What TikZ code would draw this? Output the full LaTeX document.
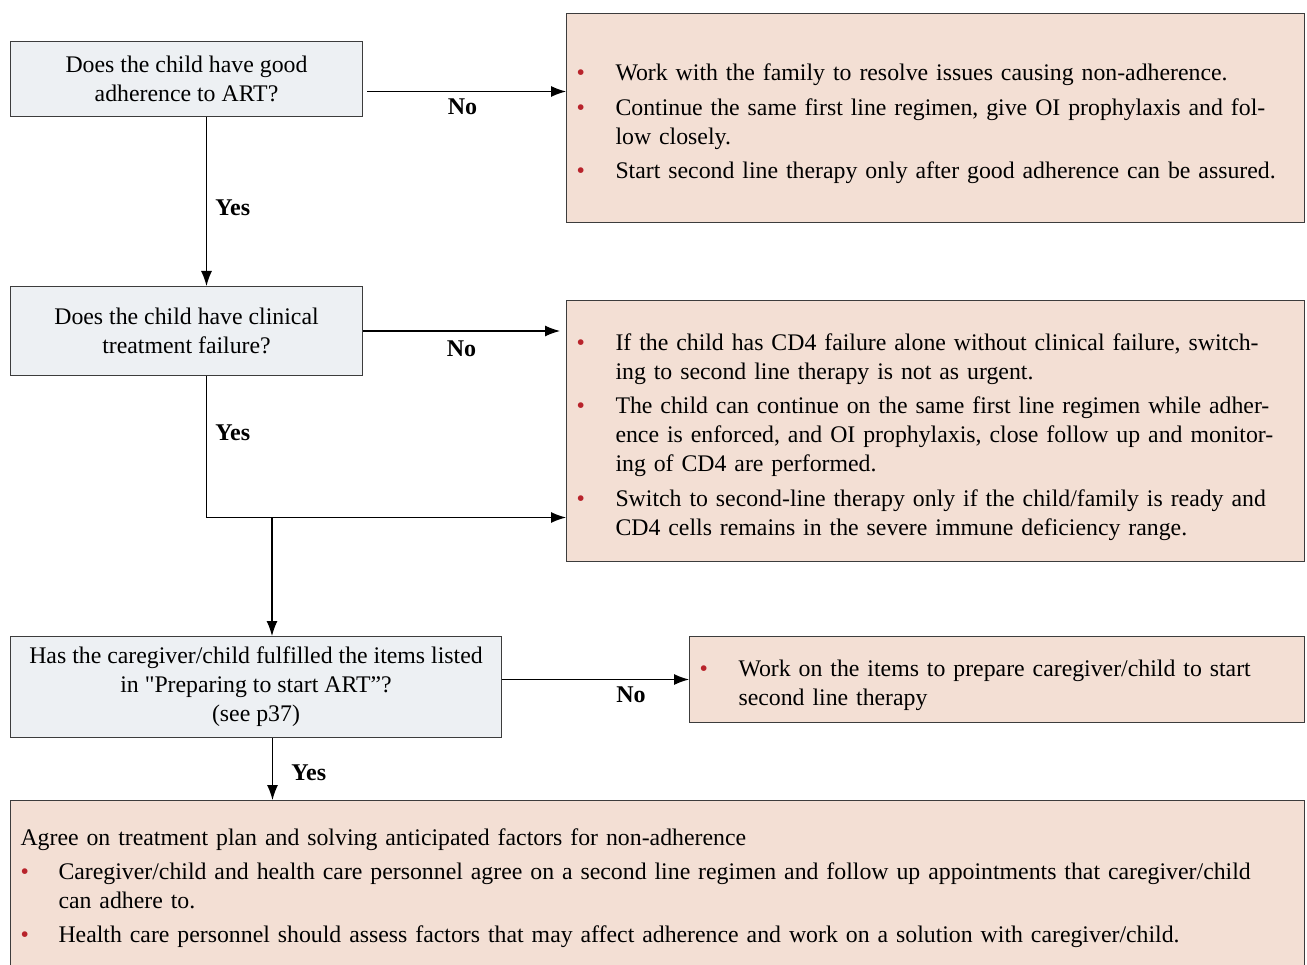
\documentclass[tikz,border=0pt]{standalone}
\usepackage{fontspec}
\setmainfont{Liberation Serif}
\usetikzlibrary{arrows.meta,positioning}
\definecolor{askfill}{HTML}{EDF0F3}
\definecolor{actfill}{HTML}{F3DFD4}
\definecolor{boxline}{HTML}{3C3C3C}
\definecolor{bulred}{HTML}{B8232B}
\newcommand\bul{\textcolor{bulred}{\textbullet}}
\newenvironment{redlist}[1]{\begin{list}{\bul}{\setlength\leftmargin{#1}\setlength\labelwidth{#1}%
  \setlength\labelsep{0pt}\setlength\itemsep{5.5pt}\setlength\parsep{0pt}\setlength\topsep{5pt}%
  \setlength\partopsep{0pt}\renewcommand\makelabel[1]{##1\hfil}}}{\end{list}}
\tikzset{
  ask/.style={draw=boxline,line width=1pt,fill=askfill,align=center,anchor=north west,inner sep=2pt},
  act/.style={draw=boxline,line width=1pt,fill=actfill,anchor=north west,inner xsep=10pt,inner ysep=0pt},
  arr/.style={line width=1.2pt,-{Latex[length=15pt,width=11pt]}},
  lbl/.style={font=\fontsize{24}{29}\selectfont\bfseries}
}
\begin{document}
\begin{tikzpicture}[x=1pt,y=-1pt,font=\fontsize{23.8}{29}\selectfont]
\useasboundingbox (0,0) rectangle (1307,965);
\clip (0,0) rectangle (1307,965);
\node[ask,minimum width=352pt,minimum height=75pt] (q1) at (10,41) {Does the child have good\\adherence to ART?};
\node[ask,minimum width=352pt,minimum height=89pt] (q2) at (10,286) {Does the child have clinical\\treatment failure?};
\node[ask,minimum width=491pt,minimum height=101pt] (q3) at (10,636) {Has the caregiver/child fulfilled the items listed\\in \textquotedbl Preparing to start ART''?\\(see p37)};
\node[act,text width=718pt,minimum height=209pt] (r1) at (566,13) {\begin{redlist}{39pt}
\item Work with the family to resolve issues causing non-adherence.
\item Continue the same first line regimen, give OI prophylaxis and fol-\\low closely.
\item \mbox{Start second line therapy only after good adherence can be assured.}
\end{redlist}\vspace{16pt}};
\node[act,text width=718pt,minimum height=261pt] (r2) at (566,300) {\begin{redlist}{39pt}
\item If the child has CD4 failure alone without clinical failure, switch-\\ing to second line therapy is not as urgent.
\item The child can continue on the same first line regimen while adher-\\ence is enforced, and OI prophylaxis, close follow up and monitor-\\ing of CD4 are performed.
\item Switch to second-line therapy only if the child/family is ready and\\CD4 cells remains in the severe immune deficiency range.
\end{redlist}\vspace{12pt}};
\node[act,text width=595pt,minimum height=86pt] (r3) at (689,636) {\begin{redlist}{39pt}
\item Work on the items to prepare caregiver/child to start\\second line therapy
\end{redlist}\vspace{8pt}};
\node[act,text width=1274pt,inner ysep=28pt] (bot) at (10,800) {Agree on treatment plan and solving anticipated factors for non-adherence
\begin{redlist}{38pt}
\item Caregiver/child and health care personnel agree on a second line regimen and follow up appointments that caregiver/child\\can adhere to.
\item Health care personnel should assess factors that may affect adherence and work on a solution with caregiver/child.
\end{redlist}};
\coordinate (split) at (272,517);
\draw[arr] ([xshift=4pt,yshift=-12.5pt]q1.east) -- node[lbl,below=3pt,pos=0.48] {No} ([yshift=-12.5pt]q1.east -| r1.west);
\draw[arr] ([xshift=20pt]q1.south) -- node[lbl,right=5pt,pos=0.54] {Yes} ([xshift=20pt]q2.north);
\draw[arr] (q2.east) -- node[lbl,below=6pt] {No} ([xshift=-6pt]q2.east -| r2.west);
\draw[arr] ([xshift=20pt]q2.south) |- node[lbl,right=5pt,pos=0.2] {Yes} ([yshift=-86.5pt]r2.west);
\draw[arr] (split) -- (split |- q3.north);
\draw[arr] (r3.west -| q3.east) -- node[lbl,below=3pt,pos=0.69] {No} (r3.west);
\draw[arr] ([xshift=16.5pt]q3.south) -- node[lbl,right=15pt,pos=0.56] {Yes} ([xshift=16.5pt]q3.south |- bot.north);
\end{tikzpicture}
\end{document}
